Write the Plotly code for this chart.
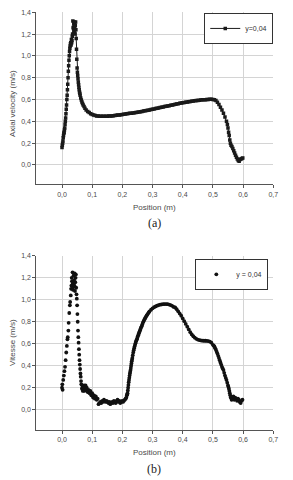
import plotly.graph_objects as go

# ---------------- data (a) : axial velocity at y=0,04 ----------------
pos_a = [0.000,0.001,0.002,0.003,0.004,0.005,0.006,0.007,0.008,0.009,
         0.010,0.011,0.012,0.013,0.014,0.015,0.016,0.017,0.018,0.019,
         0.020,0.021,0.022,0.023,0.024,0.025,0.026,0.027,0.028,0.029,
         0.030,0.031,0.032,0.033,0.034,0.035,0.036,0.037,0.038,0.039,
         0.040,0.041,0.042,0.043,0.044,0.045,0.046,0.047,0.048,0.049,
         0.050,0.051,0.052,0.053,0.054,0.055,0.056,0.057,0.058,0.059,
         0.060,0.062,0.064,0.066,0.068,0.070,0.073,0.076,0.080,0.085,
         0.090,0.095,0.100,0.105,0.110,0.115,0.120,0.125,0.130,0.135,
         0.140,0.145,0.150,0.155,0.160,0.165,0.170,0.175,0.180,0.185,
         0.190,0.195,0.200,0.205,0.210,0.215,0.220,0.225,0.230,0.235,
         0.240,0.245,0.250,0.255,0.260,0.265,0.270,0.275,0.280,0.285,
         0.290,0.295,0.300,0.305,0.310,0.315,0.320,0.325,0.330,0.335,
         0.340,0.345,0.350,0.355,0.360,0.365,0.370,0.375,0.380,0.385,
         0.390,0.395,0.400,0.405,0.410,0.415,0.420,0.425,0.430,0.435,
         0.440,0.445,0.450,0.455,0.460,0.465,0.470,0.475,0.480,0.485,
         0.490,0.495,0.500,0.505,0.510,0.515,0.520,0.525,0.530,0.535,
         0.540,0.545,0.548,0.550,0.552,0.554,0.556,0.558,0.560,0.563,
         0.566,0.569,0.572,0.575,0.578,0.581,0.584,0.587,0.590,0.593,
         0.596,0.599]
vel_a = [0.16,0.18,0.20,0.22,0.25,0.27,0.29,0.30,0.32,0.34,
         0.37,0.40,0.43,0.47,0.51,0.55,0.60,0.64,0.69,0.74,
         0.80,0.86,0.91,0.96,1.00,1.04,1.07,1.09,1.11,1.12,
         1.10,1.15,1.12,1.14,1.18,1.20,1.32,1.26,1.25,1.30,
         1.22,1.31,1.27,1.20,1.28,1.31,1.24,1.16,1.06,0.97,
         0.89,0.85,0.82,0.79,0.76,0.735,0.71,0.69,0.67,0.655,
         0.64,0.615,0.595,0.578,0.563,0.55,0.535,0.52,0.505,0.49,
         0.48,0.47,0.463,0.457,0.453,0.450,0.448,0.447,0.446,0.446,
         0.446,0.446,0.447,0.448,0.449,0.450,0.452,0.453,0.455,0.457,
         0.459,0.461,0.463,0.465,0.467,0.469,0.471,0.473,0.475,0.477,
         0.479,0.481,0.484,0.486,0.489,0.491,0.494,0.496,0.499,0.502,
         0.505,0.508,0.511,0.514,0.517,0.520,0.523,0.526,0.529,0.532,
         0.535,0.538,0.541,0.544,0.547,0.550,0.553,0.556,0.559,0.562,
         0.565,0.568,0.571,0.573,0.576,0.578,0.580,0.582,0.584,0.586,
         0.588,0.590,0.592,0.594,0.595,0.597,0.598,0.599,0.600,0.601,
         0.602,0.602,0.601,0.598,0.590,0.575,0.555,0.530,0.505,0.475,
         0.440,0.400,0.370,0.340,0.300,0.270,0.230,0.200,0.180,0.170,
         0.150,0.130,0.110,0.090,0.070,0.055,0.040,0.035,0.050,0.055,
         0.060,0.065]

# ---------------- data (b) : vitesse at y = 0,04 ----------------
pos_b = [0.000,0.001,0.002,0.004,0.006,0.008,0.010,0.012,0.014,0.016,
         0.018,0.019,0.021,0.022,0.024,0.026,0.027,0.029,0.030,0.031,
         0.032,0.033,0.034,0.035,0.036,0.037,0.038,0.039,0.040,0.041,
         0.042,0.043,0.044,0.045,0.046,0.047,0.048,0.049,0.050,0.051,
         0.052,0.053,0.054,0.055,0.056,0.057,0.058,0.059,0.060,0.061,
         0.062,0.063,0.064,0.066,0.067,0.068,0.069,0.070,0.071,0.072,
         0.073,0.074,0.076,0.078,0.080,0.082,0.085,0.088,0.091,0.094,
         0.097,0.100,0.103,0.106,0.109,0.112,0.115,0.118,0.121,0.124,
         0.127,0.130,0.133,0.136,0.139,0.142,0.145,0.148,0.151,0.154,
         0.157,0.160,0.163,0.166,0.169,0.172,0.175,0.178,0.181,0.184,
         0.187,0.190,0.193,0.196,0.199,0.202,0.205,0.208,0.211,0.213,
         0.215,0.216,0.217,0.218,0.219,0.220,0.221,0.222,0.223,0.224,
         0.225,0.226,0.227,0.228,0.229,0.230,0.231,0.232,0.233,0.2345,
         0.236,0.2375,0.239,0.2405,0.242,0.2435,0.245,0.2465,0.248,0.2495,
         0.251,0.2525,0.254,0.2555,0.257,0.2585,0.260,0.262,0.264,0.266,
         0.268,0.270,0.272,0.274,0.276,0.278,0.280,0.2825,0.285,0.2875,
         0.290,0.295,0.300,0.305,0.310,0.315,0.320,0.325,0.330,0.335,
         0.340,0.345,0.350,0.355,0.360,0.365,0.370,0.375,0.380,0.385,
         0.390,0.395,0.400,0.405,0.410,0.415,0.420,0.425,0.430,0.435,
         0.440,0.445,0.450,0.455,0.460,0.465,0.470,0.475,0.480,0.485,
         0.490,0.495,0.500,0.5025,0.505,0.5075,0.510,0.5125,0.515,0.5175,
         0.520,0.5225,0.525,0.5275,0.530,0.5325,0.535,0.5375,0.540,0.5425,
         0.545,0.5475,0.550,0.5515,0.553,0.5545,0.556,0.5575,0.559,0.562,
         0.565,0.568,0.571,0.574,0.577,0.580,0.583,0.586,0.589,0.592,
         0.595,0.598]
vel_b = [0.20,0.23,0.18,0.27,0.31,0.35,0.39,0.45,0.52,0.58,
         0.64,0.66,0.72,0.79,0.88,0.95,0.98,1.04,1.10,1.13,
         1.20,1.17,1.10,1.25,1.15,1.09,1.22,1.12,1.18,1.13,
         1.24,1.08,1.16,1.20,1.23,1.11,1.05,1.01,0.95,0.87,
         0.80,0.72,0.66,0.61,0.55,0.50,0.45,0.41,0.37,0.33,
         0.30,0.26,0.23,0.19,0.22,0.20,0.17,0.18,0.21,0.19,
         0.22,0.17,0.20,0.22,0.18,0.20,0.16,0.18,0.15,0.17,
         0.13,0.15,0.11,0.13,0.10,0.12,0.09,0.10,0.05,0.06,
         0.07,0.06,0.08,0.07,0.09,0.08,0.07,0.08,0.07,0.06,
         0.07,0.05,0.06,0.07,0.06,0.08,0.07,0.06,0.08,0.09,
         0.07,0.08,0.06,0.07,0.08,0.07,0.08,0.09,0.10,0.11,
         0.13,0.14,0.15,0.175,0.20,0.225,0.25,0.27,0.29,0.31,
         0.33,0.345,0.36,0.38,0.40,0.42,0.44,0.455,0.47,0.495,
         0.52,0.54,0.56,0.575,0.59,0.605,0.62,0.63,0.64,0.652,
         0.665,0.678,0.69,0.70,0.71,0.722,0.735,0.748,0.76,0.775,
         0.79,0.803,0.815,0.825,0.835,0.845,0.855,0.865,0.875,0.885,
         0.895,0.91,0.922,0.932,0.94,0.947,0.952,0.956,0.958,0.96,
         0.961,0.961,0.96,0.957,0.952,0.945,0.935,0.93,0.915,0.895,
         0.875,0.855,0.83,0.805,0.78,0.755,0.73,0.705,0.685,0.668,
         0.655,0.645,0.638,0.633,0.63,0.628,0.627,0.627,0.626,0.624,
         0.62,0.61,0.59,0.583,0.575,0.56,0.545,0.528,0.51,0.49,
         0.47,0.45,0.43,0.41,0.39,0.375,0.36,0.335,0.31,0.29,
         0.27,0.245,0.22,0.205,0.19,0.17,0.15,0.13,0.11,0.09,
         0.10,0.12,0.09,0.11,0.10,0.08,0.10,0.09,0.07,0.06,
         0.08,0.09]

x_ticks = [0.0, 0.1, 0.2, 0.3, 0.4, 0.5, 0.6, 0.7]
y_ticks = [0.0, 0.2, 0.4, 0.6, 0.8, 1.0, 1.2, 1.4]

W, H = 293, 480
def px(v):   # x pixel -> paper
    return v / W
def py(v):   # y pixel (from top) -> paper
    return (H - v) / H

FONT = "Liberation Sans, Arial, sans-serif"
TXT = "#4a4a4a"

fig = go.Figure()
fig.add_trace(go.Scatter(x=pos_a, y=vel_a, mode="lines+markers", name="y=0,04",
                         line=dict(color="#1a1a1a", width=1),
                         marker=dict(symbol="square", size=3.5, color="#1a1a1a"),
                         xaxis="x", yaxis="y", legend="legend"))
fig.add_trace(go.Scatter(x=pos_b, y=vel_b, mode="markers", name="y = 0,04",
                         marker=dict(symbol="circle", size=3.8, color="#111111"),
                         xaxis="x2", yaxis="y2", legend="legend2"))

axis_common = dict(showgrid=True, gridcolor="#d4d4d4", gridwidth=1, zeroline=False,
                   showline=True, linecolor="#555555", linewidth=1,
                   ticks="outside", ticklen=3, tickcolor="#555555",
                   tickfont=dict(family=FONT, size=7, color=TXT), tickformat=".1f")

xdom = [px(37), px(278)]
fig.update_layout(
    width=W, height=H, margin=dict(l=0, r=0, t=0, b=0),
    paper_bgcolor="white", plot_bgcolor="white", separators=", ",
    xaxis=dict(axis_common, domain=xdom, range=[-0.085, 0.7], tickvals=x_ticks, anchor="y"),
    yaxis=dict(axis_common, domain=[py(181.7), py(8.3)], range=[-0.176, 1.4], tickvals=y_ticks, anchor="x"),
    xaxis2=dict(axis_common, domain=xdom, range=[-0.085, 0.7], tickvals=x_ticks, anchor="y2"),
    yaxis2=dict(axis_common, domain=[py(429.3), py(254)], range=[-0.183, 1.4], tickvals=y_ticks, anchor="x2"),
    legend=dict(x=px(278), y=py(9), xanchor="right", yanchor="top", bgcolor="white",
                bordercolor="#333333", borderwidth=1, itemwidth=30,
                font=dict(family=FONT, size=7, color="#333333")),
    legend2=dict(x=px(273), y=py(257), xanchor="right", yanchor="top", bgcolor="white",
                 bordercolor="#333333", borderwidth=1, itemwidth=30,
                 font=dict(family=FONT, size=7, color="#333333")),
    showlegend=True,
)

ann = [
    ("Axial velocity (m/s)", 12, 100, -90, FONT, 8),
    ("Position (m)", 157, 205, 0, FONT, 8),
    ("(a)", 157, 221, 0, "Liberation Serif, Times New Roman, serif", 12),
    ("Vitesse (m/s)", 12, 341, -90, FONT, 8),
    ("Position (m)", 157, 452.7, 0, FONT, 8),
    ("(b)", 157, 469, 0, "Liberation Serif, Times New Roman, serif", 12),
]
for t, x, y, rot, fam, sz in ann:
    fig.add_annotation(text=t, x=px(x), y=py(y), xref="paper", yref="paper",
                       xanchor="center", yanchor="middle", showarrow=False, textangle=rot,
                       font=dict(family=fam, size=sz, color=TXT if fam == FONT else "#222222"))

fig.write_html("out.html", config={"displayModeBar": False},
               post_script="document.body.style.margin='0';document.body.style.overflow='hidden';")
